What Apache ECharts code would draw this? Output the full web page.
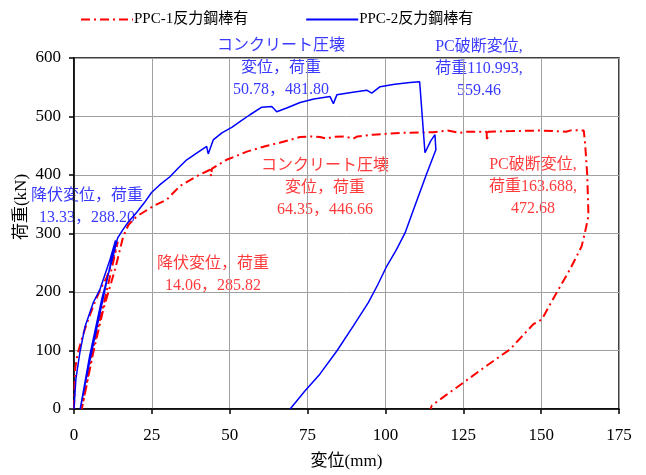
<!DOCTYPE html>
<html lang="ja">
<head>
<meta charset="UTF-8">
<title>荷重-変位</title>
<script src="https://cdn.jsdelivr.net/npm/echarts@6/dist/echarts.min.js"></script>
<style>
  * { margin: 0; padding: 0; }
  body { background: #fff; }
  #chart { width: 646px; height: 475px; }
</style>
</head>
<body>
<div id="chart"></div>
<script>
// 軸の目盛
const xTicks = [0, 25, 50, 75, 100, 125, 150, 175];
const yTicks = [0, 100, 200, 300, 400, 500, 600];

// PPC-1反力鋼棒有 [変位(mm), 荷重(kN)]
const ppc1 = [
  [0, 0], [0.2, 40], [0.4, 70], [1.2, 95], [2.8, 125], [4.5, 152], [6.5, 180],
  [8.5, 205], [10.5, 225], [12.5, 255], [14.06, 285.82], [10, 190], [6, 100],
  [2.5, 0], [6.2, 97], [9.4, 170], [13.2, 239], [15.8, 295], [17.5, 315],
  [20.1, 329], [25.5, 347], [29.8, 358], [34, 381], [39.4, 398], [43.7, 409],
  [44, 398], [44.3, 411], [49, 426], [55.5, 440], [58.7, 445], [62, 450],
  [66, 455], [69.4, 460], [72.6, 465], [76, 466], [79, 465], [81.1, 462],
  [83, 465], [87, 466], [89.7, 462], [91, 466], [96.1, 469], [104.7, 472],
  [115.3, 473], [120, 476], [124, 472], [126.1, 474], [132.5, 474], [132.6, 458],
  [133, 474], [140, 475], [150, 476], [158, 474], [160, 477], [163.69, 476],
  [164.1, 455], [164.8, 400], [165.2, 330], [164, 300], [163, 278], [159.3, 239],
  [155, 199], [150.2, 153], [147.5, 145], [144, 125], [140, 102], [132.5, 74],
  [125, 45], [119, 22], [114.9, 6], [114.5, 0]
];

// PPC-2反力鋼棒有 [変位(mm), 荷重(kN)]
const ppc2 = [
  [0, 0], [0.6, 51], [1.9, 97], [3.5, 140], [6.2, 182], [8.3, 204], [11.6, 256],
  [13.33, 288.2], [9, 180], [5, 80], [2, 0], [5, 90], [9, 190], [12.5, 260],
  [14, 292], [15.5, 305], [17.5, 320], [20.1, 336], [22.5, 352], [24.9, 370],
  [27.5, 383], [30.8, 397], [33.5, 412], [36.2, 426], [39.5, 438], [42.6, 449],
  [43.1, 436], [44.7, 460], [47.5, 472], [50.78, 481.8], [53.5, 492], [56.5, 503],
  [60.3, 516], [63.5, 517], [65.1, 508], [68.5, 515], [72.6, 524], [77, 530],
  [82.2, 534], [83.3, 522], [84.4, 537], [89, 541], [94, 545], [95.6, 540],
  [98.3, 551], [103, 555], [107.9, 558], [110.99, 559.46], [112.7, 438],
  [114.5, 458], [115.9, 469], [116.2, 443], [113.3, 403], [110, 355],
  [106.3, 301], [103.5, 272], [100.4, 244], [97.5, 212], [94.5, 182],
  [89.7, 142], [84.5, 100], [79, 60], [74, 30], [69.4, 0]
];

const seriesNames = ['PPC-1反力鋼棒有', 'PPC-2反力鋼棒有'];

const FONT = '"Liberation Serif", "Noto Sans CJK JP", serif';
const RED_TXT = '#ff3b3b';
const BLUE_TXT = '#3a3aff';

function note(x, y, text, color) {
  return {
    type: 'text', x: x, y: y,
    style: {
      text: text, fill: color, font: '16px ' + FONT,
      align: 'center', verticalAlign: 'top', lineHeight: 22
    }
  };
}

const chart = echarts.init(document.getElementById('chart'));

chart.setOption({
  animation: false,
  textStyle: { fontFamily: FONT },
  grid: {
    left: 74, right: 27, top: 58, bottom: 65,
    show: true, borderColor: '#000', borderWidth: 1.5
  },
  legend: {
    top: 7, left: 75,
    itemWidth: 52, itemHeight: 10, itemGap: 57,
    itemStyle: { opacity: 0 },
    textStyle: { fontSize: 15, color: '#000', fontFamily: FONT, padding: [0, 0, 0, -4] },
    data: seriesNames
  },
  xAxis: {
    type: 'value', min: 0, max: 175, interval: 25,
    axisLine: { lineStyle: { color: '#000', width: 1.5 } },
    axisTick: { show: true, length: 5, lineStyle: { color: '#000', width: 1.5 } },
    axisLabel: { color: '#000', fontSize: 17, margin: 18, fontFamily: FONT },
    splitLine: { show: true, lineStyle: { color: '#a0a0a0', width: 1 } },
    name: '変位(mm)', nameLocation: 'middle', nameGap: 44,
    nameTextStyle: { color: '#000', fontSize: 17, fontFamily: FONT }
  },
  yAxis: {
    type: 'value', min: 0, max: 600, interval: 100,
    axisLine: { show: true, lineStyle: { color: '#000', width: 1.5 } },
    axisTick: { show: true, length: 5, lineStyle: { color: '#000', width: 1.5 } },
    axisLabel: { color: '#000', fontSize: 17, margin: 13, fontFamily: FONT },
    splitLine: { show: true, lineStyle: { color: '#a0a0a0', width: 1 } }
  },
  graphic: [
    {
      type: 'text', x: 22, y: 207, rotation: Math.PI / 2,
      style: {
        text: '荷重(kN)', fill: '#000', font: '17px ' + FONT,
        align: 'center', verticalAlign: 'middle'
      }
    },
    note(281, 35, 'コンクリート圧壊\n変位，荷重\n50.78，481.80', BLUE_TXT),
    note(479, 36, 'PC破断変位,\n荷重110.993,\n559.46', BLUE_TXT),
    note(87, 185, '降伏変位，荷重\n13.33，288.20', BLUE_TXT),
    note(325, 155, 'コンクリート圧壊\n変位，荷重\n64.35，446.66', RED_TXT),
    note(213, 253, '降伏変位，荷重\n14.06，285.82', RED_TXT),
    note(533, 154, 'PC破断変位,\n荷重163.688,\n472.68', RED_TXT)
  ],
  series: [
    {
      name: seriesNames[0], type: 'line', data: ppc1,
      showSymbol: false, symbol: 'none', z: 3,
      lineStyle: { color: '#ff0000', width: 2, type: [9, 4, 2, 4] },
      itemStyle: { color: '#ff0000' }
    },
    {
      name: seriesNames[1], type: 'line', data: ppc2,
      showSymbol: false, symbol: 'none', z: 4,
      lineStyle: { color: '#0000ff', width: 1.5 },
      itemStyle: { color: '#0000ff' }
    }
  ]
});
</script>
</body>
</html>
